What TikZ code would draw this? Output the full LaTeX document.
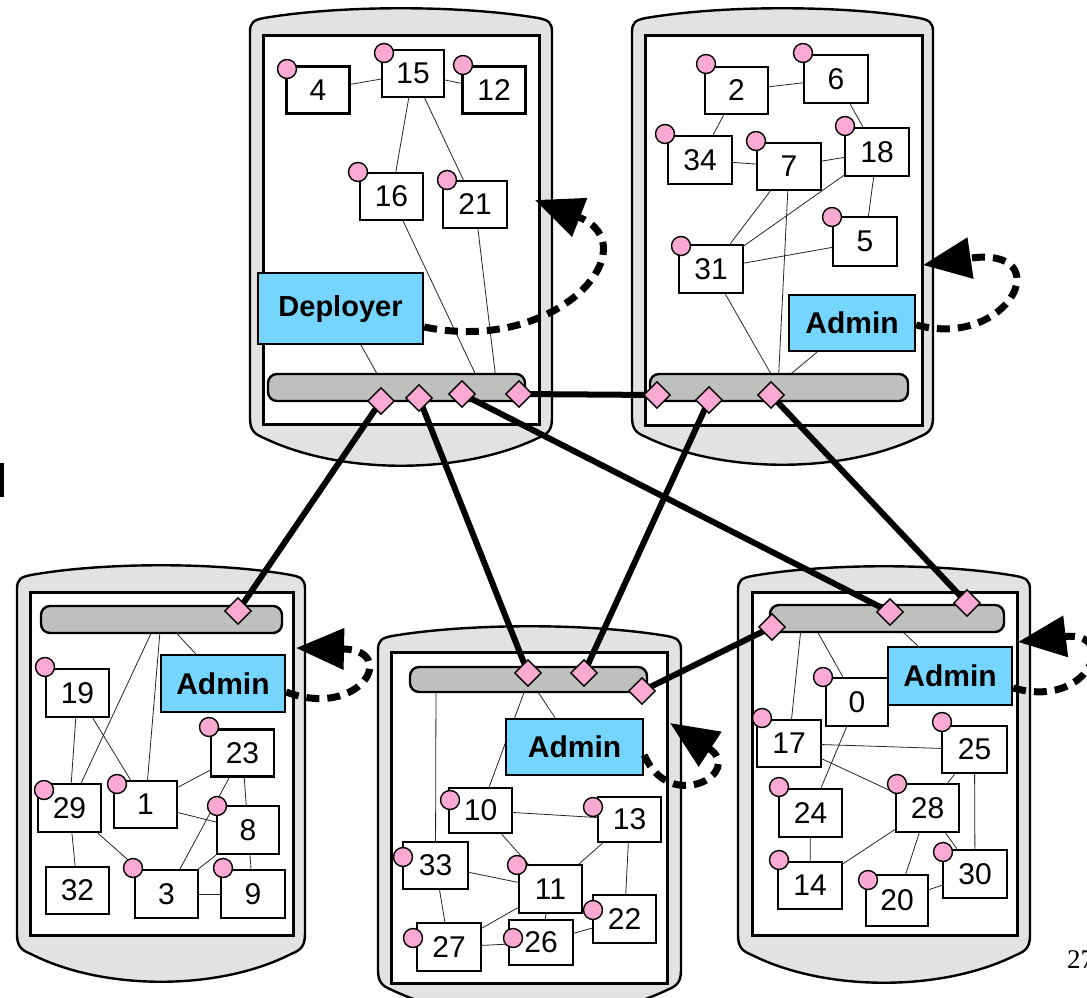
\documentclass[tikz,border=0pt]{standalone}
\usepackage{fontspec}
\setmainfont{Liberation Sans}
\newfontfamily\pagenumfont{Liberation Serif}
\usetikzlibrary{shapes.geometric,arrows.meta}

\definecolor{portpink}{RGB}{250,170,210}
\definecolor{adminblue}{RGB}{117,213,255}
\definecolor{busgray}{RGB}{190,192,190}
\definecolor{hostgray}{RGB}{226,226,226}

\pgfdeclarelayer{hosts}
\pgfdeclarelayer{wires}
\pgfdeclarelayer{links}
\pgfdeclarelayer{plugs}
\pgfsetlayers{hosts,wires,main,links,plugs}

% barrel-shaped host body: left, top, right, bottom
\newcommand{\hostbody}[4]{%
  \filldraw[hostline] (#1,{#2+24})
    .. controls (#1,{#2+14}) and ({#1+4},{#2+12}) .. ({#1+14},{#2+10})
    .. controls ({#1+0.3*(#3-#1)},{#2-3}) and ({#3-0.3*(#3-#1)},{#2-3}) .. ({#3-14},{#2+10})
    .. controls ({#3-4},{#2+12}) and (#3,{#2+14}) .. (#3,{#2+24})
    -- (#3,{#4-48})
    .. controls (#3,{#4-36}) and ({#3-4},{#4-32}) .. ({#3-14},{#4-28})
    .. controls ({#3-0.3*(#3-#1)},{#4+9}) and ({#1+0.3*(#3-#1)},{#4+9}) .. ({#1+14},{#4-28})
    .. controls ({#1+4},{#4-32}) and (#1,{#4-36}) .. (#1,{#4-48})
    -- cycle;}

\begin{document}
\begin{tikzpicture}[x=1pt,y=-1pt,
  hostline/.style={draw, fill=hostgray, line width=2.4pt},
  frame/.style={draw, fill=white, line width=3pt},
  box/.style={draw, fill=white, line width=2.4pt, minimum width=63pt,
    minimum height=47pt, inner sep=0pt, font=\fontsize{30}{32}\selectfont},
  adminbox/.style={box, fill=adminblue, font=\fontsize{30}{32}\selectfont\bfseries},
  port/.style={circle, draw, fill=portpink, line width=1.4pt, minimum size=19pt, inner sep=0pt},
  plug/.style={diamond, draw, fill=portpink, line width=1.4pt, minimum width=27pt,
    minimum height=27pt, inner sep=0pt},
  bus/.style={draw, fill=busgray, line width=2.4pt, rounded corners=9pt, inner sep=0pt},
  wire/.style={line width=0.8pt, black!85},
  link/.style={line width=6pt},
  selfloop/.style={line width=7pt, dash pattern=on 13pt off 8pt,
    -{Triangle[length=48pt,width=40pt]}}]

\useasboundingbox (0,0) rectangle (1087,998);

% ---------- host bodies and their frames ----------
\begin{pgfonlayer}{hosts}
  \hostbody{250}{8}{552}{466}
  \hostbody{632}{8}{933}{465}
  \hostbody{17}{565}{305}{982}
  \hostbody{378}{626}{681}{1018}
  \hostbody{738}{566}{1030}{983}
  \draw[frame] (263,36) rectangle (539,424);
  \draw[frame] (645,36) rectangle (922,425);
  \draw[frame] (30,592) rectangle (293,935);
  \draw[frame] (391,652) rectangle (667,983);
  \draw[frame] (752,592) rectangle (1017,935);
\end{pgfonlayer}

% ---------- buses ----------
\node[bus, minimum width=257pt, minimum height=27pt] (tlbus) at (396.5,387.5) {};
\node[bus, minimum width=258pt, minimum height=27pt] (trbus) at (779,387.5) {};
\node[bus, minimum width=241pt, minimum height=27pt] (blbus) at (161.5,619.5) {};
\node[bus, minimum width=237pt, minimum height=25pt] (bmbus) at (528.5,679.5) {};
\node[bus, minimum width=234pt, minimum height=27pt] (brbus) at (887,618.5) {};

% ---------- upper left host ----------
\node[box] (n4) at (318,90) {4};
\node[box, minimum width=62pt] (n15) at (413,73.5) {15};
\node[box] (n12) at (494,90) {12};
\node[box] (n16) at (391.5,196.5) {16};
\node[box, minimum width=64pt] (n21) at (475,204.5) {21};
\node[adminbox, minimum width=165pt, minimum height=71pt,
  font=\fontsize{29}{31}\selectfont\bfseries] (dep) at (340.5,308.5) {Deployer};

% ---------- upper right host ----------
\node[box] (n2) at (736.5,90.5) {2};
\node[box, minimum width=64pt, minimum height=48pt] (n6) at (836,79) {6};
\node[box, minimum width=64pt, minimum height=48pt] (n34) at (700,160) {34};
\node[box, minimum width=64pt] (n7) at (789,166.5) {7};
\node[box, minimum width=64pt, minimum height=48pt] (n18) at (877,152) {18};
\node[box, minimum width=64pt, minimum height=49pt] (n5) at (865,241.5) {5};
\node[box, minimum width=64pt, minimum height=48pt] (n31) at (711,269) {31};
\node[adminbox, minimum width=126pt, minimum height=56pt] (admtr) at (852,323) {Admin};

% ---------- lower left host ----------
\node[box, minimum height=48pt] (n19) at (77.5,693) {19};
\node[adminbox, minimum width=124pt, minimum height=57pt] (admbl) at (223,683.5) {Admin};
\node[box] (n23) at (242.5,753) {23};
\node[box, minimum height=48pt] (n29) at (69.5,808) {29};
\node[box] (n1) at (145.5,804.5) {1};
\node[box, minimum width=62pt, minimum height=48pt] (n8) at (248,830) {8};
\node[box] (n32) at (77.5,890.5) {32};
\node[box, minimum height=48pt] (n3) at (166.5,894) {3};
\node[box, minimum width=64pt, minimum height=48pt] (n9) at (253,894) {9};

% ---------- lower middle host ----------
\node[adminbox, minimum width=137pt, minimum height=56pt] (admbm) at (574.5,747) {Admin};
\node[box, minimum height=45pt] (n10) at (480.5,810.5) {10};
\node[box, minimum height=45pt] (n13) at (629.5,819.5) {13};
\node[box, minimum width=65pt] (n33) at (435.5,865.5) {33};
\node[box, minimum height=48pt] (n11) at (550.5,889) {11};
\node[box, minimum height=48pt] (n22) at (624.5,919) {22};
\node[box, minimum width=64pt, minimum height=48pt] (n27) at (449,947) {27};
\node[box, minimum width=64pt, minimum height=45pt] (n26) at (541,942.5) {26};

% ---------- lower right host ----------
\node[box, minimum width=62pt, minimum height=48pt] (n0) at (857,702) {0};
\node[adminbox, minimum width=124pt, minimum height=58pt] (admbr) at (950,676) {Admin};
\node[box, minimum width=64pt] (n17) at (789,743.5) {17};
\node[box, minimum width=65pt] (n25) at (974.5,749.5) {25};
\node[box, minimum height=48pt] (n24) at (810.5,813) {24};
\node[box, minimum height=48pt] (n28) at (927.5,808) {28};
\node[box, minimum width=64pt] (n14) at (810,885.5) {14};
\node[box, minimum width=64pt, minimum height=48pt] (n30) at (975,874) {30};
\node[box, minimum width=62pt, minimum height=51pt] (n20) at (897,900.5) {20};

% ---------- component ports ----------
\node[port] (p4) at (287,69) {};
\node[port] (p15) at (384,53) {};
\node[port] (p12) at (463,65) {};
\node[port] (p16) at (358,172) {};
\node[port] (p21) at (447,180) {};
\node[port] (p2) at (706,64) {};
\node[port] (p6) at (803,53) {};
\node[port] (p34) at (665,134) {};
\node[port] (p7) at (756,141) {};
\node[port] (p18) at (845,126) {};
\node[port] (p5) at (832,217) {};
\node[port] (p31) at (681,246) {};
\node[port] (p19) at (45,667) {};
\node[port] (p23) at (209,727) {};
\node[port] (p29) at (44,790) {};
\node[port] (p1) at (117,784) {};
\node[port] (p8) at (217,806) {};
\node[port] (p3) at (133,868) {};
\node[port] (p9) at (223,868) {};
\node[port] (p10) at (450,800) {};
\node[port] (p13) at (593,807) {};
\node[port] (p33) at (403,857) {};
\node[port] (p11) at (517,865) {};
\node[port] (p22) at (593,910) {};
\node[port] (p27) at (413,938) {};
\node[port] (p26) at (513,938) {};
\node[port] (p0) at (823,677) {};
\node[port] (p17) at (762,718) {};
\node[port] (p25) at (942,722) {};
\node[port] (p24) at (779,787) {};
\node[port] (p28) at (897,784) {};
\node[port] (p14) at (779,860) {};
\node[port] (p30) at (943,852) {};
\node[port] (p20) at (868,880) {};

% ---------- thin component wiring ----------
\begin{pgfonlayer}{wires}
  \coordinate (tlb0) at (385,388);
  \coordinate (tlb1) at (482,388);
  \coordinate (tlb2) at (497,388);
  \coordinate (trb1) at (779,388);
  \coordinate (trb2) at (778,388);
  \coordinate (trb3) at (774,388);
  \coordinate (blb1) at (164,619.5);
  \coordinate (blb2) at (161,619.5);
  \coordinate (blb3) at (157.5,619.5);
  \coordinate (bmb1) at (436,680);
  \coordinate (bmb2) at (528.6,680);
  \coordinate (bmb3) at (530,680);
  \coordinate (brb1) at (802,618.5);
  \coordinate (brb2) at (810,618.5);
  \coordinate (brb3) at (888.5,618.5);

  \draw[wire] (n4) -- (n15);
  \draw[wire] (n15) -- (n12);
  \draw[wire] (n15) -- (n16);
  \draw[wire] (n15) -- (n21);
  \draw[wire] (n16) -- (tlb1);
  \draw[wire] (n21) -- (tlb2);
  \draw[wire] (dep) -- (tlb0);

  \draw[wire] (n2) -- (n6);
  \draw[wire] (n2) -- (n34);
  \draw[wire] (n34) -- (n7);
  \draw[wire] (n7) -- (n18);
  \draw[wire] (n6) -- (n18);
  \draw[wire] (n18) -- (n5);
  \draw[wire] (n7) -- (n31);
  \draw[wire] (n18) -- (n31);
  \draw[wire] (n31) -- (n5);
  \draw[wire] (n31) -- (trb1);
  \draw[wire] (n7) -- (trb2);
  \draw[wire] (admtr) -- (trb3);

  \draw[wire] (admbl) -- (blb1);
  \draw[wire] (n1) -- (blb2);
  \draw[wire] (n29) -- (blb3);
  \draw[wire] (n19) -- (n29);
  \draw[wire] (n19) -- (n1);
  \draw[wire] (n1) -- (n23);
  \draw[wire] (n1) -- (n8);
  \draw[wire] (n23) -- (n8);
  \draw[wire] (n23) -- (n3);
  \draw[wire] (n8) -- (n3);
  \draw[wire] (n8) -- (n9);
  \draw[wire] (n3) -- (n9);
  \draw[wire] (n29) -- (n3);
  \draw[wire] (n29) -- (n32);

  \draw[wire] (n33) -- (bmb1);
  \draw[wire] (n10) -- (bmb2);
  \draw[wire] (admbm) -- (bmb3);
  \draw[wire] (n10) -- (n13);
  \draw[wire] (n10) -- (n11);
  \draw[wire] (n13) -- (n11);
  \draw[wire] (n13) -- (n22);
  \draw[wire] (n33) -- (n11);
  \draw[wire] (n33) -- (n27);
  \draw[wire] (n11) -- (n27);
  \draw[wire] (n11) -- (n26);
  \draw[wire] (n27) -- (n26);
  \draw[wire] (n26) -- (n22);

  \draw[wire] (n17) -- (brb1);
  \draw[wire] (n0) -- (brb2);
  \draw[wire] (admbr) -- (brb3);
  \draw[wire] (n0) -- (n24);
  \draw[wire] (n24) -- (n14);
  \draw[wire] (n17) -- (n25);
  \draw[wire] (n17) -- (n28);
  \draw[wire] (n25) -- (n28);
  \draw[wire] (n25) -- (n30);
  \draw[wire] (n28) -- (n14);
  \draw[wire] (n28) -- (n20);
  \draw[wire] (n28) -- (n30);
  \draw[wire] (n20) -- (n30);
\end{pgfonlayer}

% ---------- bus plugs ----------
\begin{pgfonlayer}{plugs}
  \node[plug] (dtl1) at (381,401) {};
  \node[plug] (dtl2) at (419,398) {};
  \node[plug] (dtl3) at (462,394) {};
  \node[plug] (dtl4) at (519,394) {};
  \node[plug] (dtr1) at (657,395) {};
  \node[plug] (dtr2) at (709,400) {};
  \node[plug] (dtr3) at (771,395) {};
  \node[plug] (dbl1) at (238,611) {};
  \node[plug] (dbm1) at (528,673) {};
  \node[plug] (dbm2) at (584,673) {};
  \node[plug] (dbm3) at (642,691) {};
  \node[plug] (dbr1) at (772,627) {};
  \node[plug] (dbr2) at (890,612) {};
  \node[plug] (dbr3) at (967,603) {};
\end{pgfonlayer}

% ---------- host-to-host links ----------
\begin{pgfonlayer}{links}
  \draw[link] (dtl1.center) -- (dbl1.center);
  \draw[link] (dtl2.center) -- (dbm1.center);
  \draw[link] (dtl3.center) -- (dbr2.center);
  \draw[link] (dtl4.center) -- (dtr1.center);
  \draw[link] (dtr2.center) -- (dbm2.center);
  \draw[link] (dtr3.center) -- (dbr3.center);
  \draw[link] (dbm3.center) -- (dbr1.center);
\end{pgfonlayer}

% ---------- self-management loops ----------
\begin{pgfonlayer}{plugs}
  \coordinate (tltip) at (535,200);
  \coordinate (trtip) at (923,265);
  \coordinate (bltip) at (296,648);
  \coordinate (bmtip) at (670,723);
  \coordinate (brtip) at (1018,642);
  \draw[selfloop] ([yshift=-18.5pt]dep.east) .. controls (560,355) and (650,245) .. (tltip);
  \draw[selfloop] ([yshift=-2pt]admtr.east) .. controls (1010,350) and (1060,245) .. (trtip);
  \draw[selfloop] ([yshift=-8.5pt]admbl.east) .. controls (360,720) and (400,650) .. (bltip);
  \draw[selfloop] ([yshift=-8pt]admbm.east) .. controls (670,815) and (745,772) .. (bmtip);
  \draw[selfloop] ([yshift=-12pt]admbr.east) .. controls (1090,710) and (1120,630) .. (brtip);
\end{pgfonlayer}

% ---------- page margin marks ----------
\fill (0,463) rectangle (3.5,497);
\node[anchor=base west, inner sep=0pt, font=\pagenumfont\fontsize{27}{29}\selectfont] (pagenum) at (1067,968) {27};

\end{tikzpicture}
\end{document}
